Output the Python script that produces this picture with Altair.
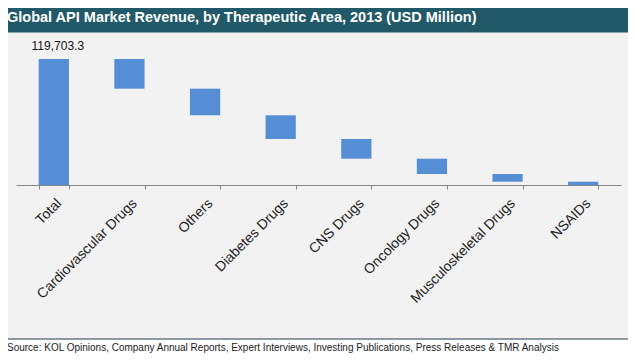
import altair as alt
import pandas as pd

categories = ["Total", "Cardiovascular Drugs", "Others", "Diabetes Drugs",
              "CNS Drugs", "Oncology Drugs", "Musculoskeletal Drugs", "NSAIDs"]
values = [119703.3, 28200, 25300, 22500, 18700, 14550, 7350, 3100]
total_label = ["119,703.3"]
title_text = "Global API Market Revenue, by Therapeutic Area, 2013 (USD Million)"
source_text = ("Source: KOL Opinions, Company Annual Reports, Expert Interviews, "
               "Investing Publications, Press Releases & TMR Analysis")

# waterfall start / end
rows = []
remaining = values[0]
for i, (c, v) in enumerate(zip(categories, values)):
    if i == 0:
        rows.append({"cat": c, "y0": 0, "y1": v})
    else:
        rows.append({"cat": c, "y0": remaining - v, "y1": remaining})
        remaining -= v
df = pd.DataFrame(rows)

W, H = 605, 145
FONT = "Liberation Sans"

xscale = alt.Scale(domain=categories, paddingInner=0.6, paddingOuter=0.3)
yscale = alt.Scale(domain=[0, 137750])

bars = alt.Chart(df).mark_bar(color="#558ed5").encode(
    x=alt.X("cat:N", sort=categories, scale=xscale, title=None,
            axis=alt.Axis(labelAngle=-45, labelFont=FONT, labelFontSize=14,
                          labelColor="#222222", domainColor="#868686",
                          tickColor="#868686", tickSize=4, tickBand="extent",
                          labelPadding=7, grid=False, labelOverlap=False,
                          labelLimit=300)),
    y=alt.Y("y0:Q", scale=yscale, axis=None),
    y2="y1:Q",
)

lab_df = pd.DataFrame({"cat": [categories[0]], "v": [values[0]], "t": total_label})
label = alt.Chart(lab_df).mark_text(font=FONT, fontSize=12, color="#111111",
                                    dy=-13, dx=4).encode(
    x=alt.X("cat:N", sort=categories, scale=xscale),
    y=alt.Y("v:Q", scale=yscale),
    text="t:N",
)

base = alt.Chart(pd.DataFrame({"a": [0]}))
title_bar = base.mark_rect(color="#215968").encode(
    x=alt.value(-10), x2=alt.value(W + 20), y=alt.value(-45), y2=alt.value(-7.5))
title = base.mark_text(font=FONT, fontSize=14.5, fontWeight="bold", color="white",
                       align="left", baseline="middle").encode(
    x=alt.value(-9), y=alt.value(-22.5), text=alt.value(title_text))
bottom_bg = base.mark_rect(color="#ffffff").encode(
    x=alt.value(-10), x2=alt.value(W + 20), y=alt.value(299), y2=alt.value(330))
sep = base.mark_rule(color="#1f3b4d", strokeWidth=1.2).encode(
    x=alt.value(-10), x2=alt.value(W + 20), y=alt.value(299), y2=alt.value(299))
source = base.mark_text(font=FONT, fontSize=10, color="#222222",
                        align="left", baseline="middle").encode(
    x=alt.value(-9), y=alt.value(308), text=alt.value(source_text))

chart = alt.layer(title_bar, title, bottom_bg, sep, source, bars, label).properties(
    width=W, height=H,
    autosize=alt.AutoSizeParams(type="none"),
    padding={"left": 8, "top": 32, "right": 7, "bottom": 169},
    background="#f2f2f2",
).configure_view(stroke=None)

chart.save("out.html", embed_options={"renderer": "svg", "actions": False})
